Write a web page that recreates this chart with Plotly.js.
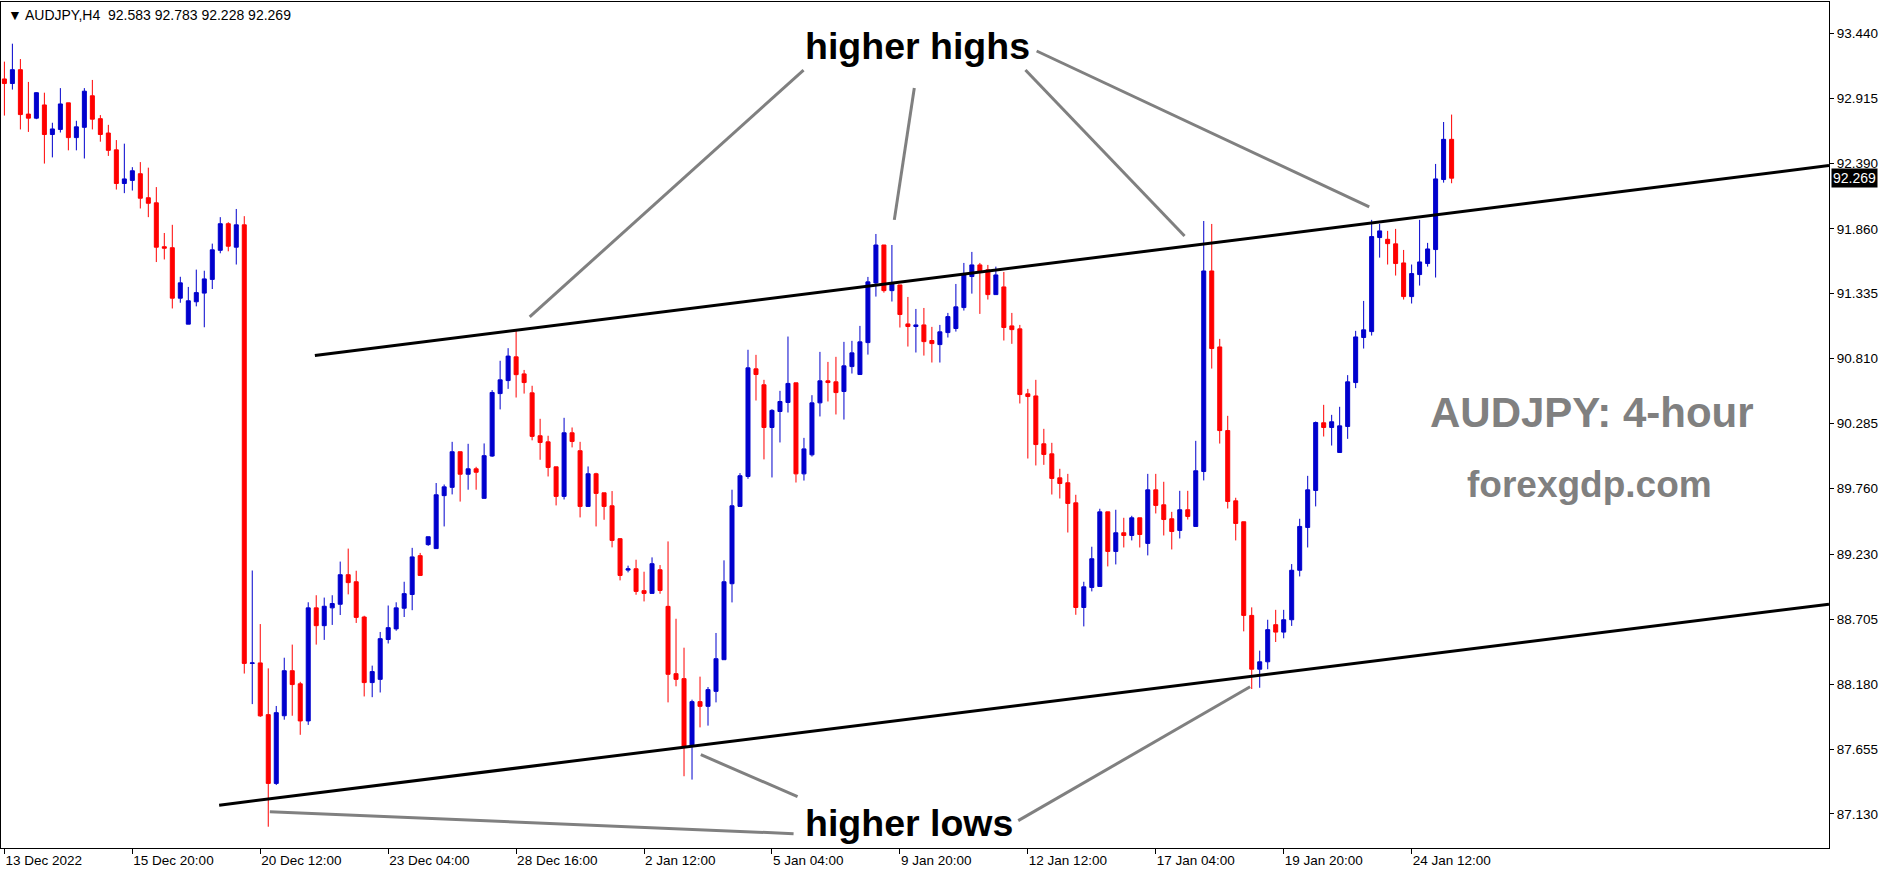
<!DOCTYPE html>
<html>
<head>
<meta charset="utf-8">
<script src="https://cdn.plot.ly/plotly-3.0.1.min.js"></script>
<style>html,body{margin:0;padding:0;background:#fff;}#chart{width:1893px;height:875px;}</style>
</head>
<body>
<div id="chart"></div>
<script>
// AUDJPY H4 candles (bar order, oldest first)
const openP = [93.071,93.034,93.146,92.787,92.754,92.861,92.622,92.663,92.878,92.597,
92.680,92.935,92.750,92.634,92.498,92.226,92.251,92.305,92.111,92.070,
91.715,91.707,91.299,91.089,91.270,91.340,91.451,91.686,91.901,91.711,
91.892,88.347,88.351,87.933,87.377,87.924,88.288,88.182,87.882,88.796,
88.652,88.796,88.825,89.064,89.007,88.722,88.192,88.218,88.540,88.626,
88.793,88.904,89.218,89.307,89.275,89.703,89.770,90.058,89.876,89.920,
89.681,90.023,90.528,90.633,90.825,90.687,90.534,90.187,90.138,89.936,
89.697,90.211,90.066,89.616,89.880,89.726,89.621,89.355,89.101,89.112,
88.935,88.913,89.104,88.808,88.264,88.224,87.677,88.038,88.000,88.121,
88.377,88.991,89.616,89.858,90.728,90.599,90.254,90.383,90.456,90.615,
89.879,90.033,90.453,90.631,90.623,90.545,90.746,90.682,90.940,91.422,
91.729,91.360,91.406,91.091,91.070,91.083,90.957,90.924,91.021,91.054,
91.223,91.474,91.568,91.528,91.328,91.390,91.075,91.051,90.526,90.509,
90.122,90.041,89.847,89.807,89.645,88.799,88.961,88.969,89.572,89.252,
89.403,89.381,89.524,89.317,89.750,89.629,89.516,89.422,89.589,89.454,
89.898,91.519,90.905,90.229,89.661,89.492,88.735,88.300,88.360,88.660,
88.600,88.700,89.100,89.446,89.745,90.292,90.254,90.052,90.262,90.617,
90.981,91.029,91.789,91.775,91.738,91.584,91.312,91.490,91.579,91.692,
92.258,92.583];
const highP = [93.211,93.356,93.232,93.047,92.964,92.960,92.717,92.997,92.878,92.733,
92.997,93.063,92.779,92.700,92.577,92.548,92.358,92.399,92.354,92.197,
91.826,91.892,91.472,91.390,91.530,91.521,91.740,91.954,91.913,92.020,
91.962,89.098,88.665,88.307,88.003,88.393,88.499,88.198,88.841,88.898,
88.879,88.898,89.170,89.275,89.096,88.732,88.329,88.601,88.815,88.841,
89.007,89.281,89.240,89.371,89.805,89.793,90.138,90.058,90.122,89.936,
90.125,90.556,90.793,90.895,91.039,90.719,90.591,90.324,90.187,89.936,
90.332,90.254,90.138,89.939,89.888,89.726,89.740,89.360,89.137,89.185,
89.088,89.204,89.142,89.333,88.708,88.474,88.054,88.240,88.156,88.593,
89.180,89.751,89.885,90.882,90.841,90.639,90.402,90.550,90.989,90.615,
90.170,90.515,90.865,90.784,90.825,90.946,90.954,91.075,91.471,91.818,
91.729,91.729,91.406,91.309,91.212,91.220,91.067,91.083,91.180,91.414,
91.584,91.673,91.584,91.568,91.554,91.511,91.180,91.083,90.566,90.639,
90.243,90.130,89.920,89.879,89.710,89.007,89.290,89.597,89.572,89.589,
89.524,89.540,89.524,89.879,89.879,89.815,89.572,89.742,89.742,90.146,
91.923,91.899,90.970,90.348,89.686,89.492,88.800,88.450,88.700,88.780,
88.780,89.150,89.516,89.863,90.302,90.437,90.356,90.421,90.677,91.035,
91.277,91.932,91.899,91.843,91.859,91.689,91.571,91.932,91.746,92.384,
92.723,92.783];
const lowP = [92.775,92.985,92.663,92.643,92.746,92.387,92.437,92.638,92.494,92.494,
92.428,92.663,92.564,92.449,92.177,92.148,92.169,92.024,91.954,91.591,
91.612,91.216,91.262,91.089,91.233,91.064,91.373,91.662,91.678,91.571,
88.265,88.018,87.915,87.027,87.364,87.892,87.924,87.770,87.850,88.499,
88.537,88.658,88.738,88.905,88.674,88.080,88.074,88.112,88.508,88.611,
88.722,88.777,89.058,89.297,89.275,89.454,89.713,89.655,89.751,89.751,
89.681,90.016,90.400,90.566,90.496,90.528,90.150,89.993,89.858,89.624,
89.672,90.093,89.527,89.616,89.454,89.508,89.285,89.018,89.083,88.902,
88.848,88.913,88.910,88.032,88.162,87.435,87.408,87.830,87.844,88.032,
88.377,88.840,89.616,89.839,90.472,89.996,89.850,90.133,90.375,89.809,
89.825,90.019,90.343,90.464,90.359,90.318,90.690,90.682,90.843,91.312,
91.344,91.272,91.062,90.908,90.860,90.835,90.779,90.779,90.981,91.029,
91.199,91.336,91.172,91.288,91.328,90.957,90.930,90.448,90.003,89.947,
89.952,89.712,89.680,89.405,88.740,88.646,88.929,88.969,89.131,89.147,
89.284,89.341,89.284,89.220,89.559,89.381,89.268,89.357,89.510,89.454,
89.826,90.730,90.124,89.599,89.341,88.606,88.140,88.150,88.300,88.520,
88.550,88.650,89.050,89.284,89.616,90.181,90.108,90.052,90.162,90.572,
90.892,90.997,91.627,91.571,91.482,91.288,91.256,91.401,91.554,91.466,
92.233,92.228];
const closeP = [93.034,93.146,92.783,92.754,92.960,92.622,92.667,92.869,92.597,92.684,
92.972,92.746,92.622,92.494,92.226,92.263,92.329,92.107,92.066,91.711,
91.703,91.299,91.423,91.278,91.344,91.455,91.690,91.901,91.719,91.892,
88.347,88.351,87.923,87.377,87.949,88.288,88.176,87.882,88.796,88.652,
88.809,88.831,89.064,89.000,88.719,88.192,88.281,88.547,88.636,88.796,
88.911,89.208,89.058,89.371,89.710,89.774,90.058,89.876,89.920,89.892,
90.026,90.537,90.639,90.831,90.681,90.617,90.182,90.133,89.931,89.697,
90.211,90.141,89.616,89.880,89.721,89.616,89.341,89.058,89.112,88.929,
88.913,89.153,88.937,88.259,88.218,87.677,88.038,88.000,88.135,88.385,
89.007,89.621,89.864,90.736,90.682,90.254,90.392,90.464,90.610,89.879,
90.081,90.453,90.631,90.617,90.536,90.752,90.857,90.946,91.431,91.729,
91.360,91.417,91.167,91.070,91.083,90.948,90.932,91.027,91.150,91.229,
91.492,91.568,91.519,91.328,91.487,91.062,91.045,90.520,90.504,90.116,
90.036,89.842,89.801,89.640,88.799,88.966,89.193,89.572,89.252,89.403,
89.381,89.524,89.389,89.750,89.624,89.510,89.413,89.589,89.535,89.904,
91.519,90.892,90.229,89.656,89.478,88.735,88.300,88.360,88.620,88.600,
88.700,89.100,89.454,89.750,90.294,90.254,90.300,90.267,90.623,90.986,
91.043,91.797,91.843,91.740,91.579,91.312,91.498,91.592,91.697,92.263,
92.583,92.269];

// time-axis labels (every 16 bars)
const xTickBars = [0,16,32,48,64,80,96,112,128,144,160,176];
const xTickLabels = ["13 Dec 2022","15 Dec 20:00","20 Dec 12:00","23 Dec 04:00","28 Dec 16:00","2 Jan 12:00","5 Jan 04:00","9 Jan 20:00","12 Jan 12:00","17 Jan 04:00","19 Jan 20:00","24 Jan 12:00"];
const yTickVals = [93.440,92.915,92.390,91.860,91.335,90.810,90.285,89.760,89.230,88.705,88.180,87.655,87.130];

// header
const symbolHeader = "\u25BC AUDJPY,H4\u00a0\u00a092.583 92.783 92.228 92.269";
const lastPrice = 92.269;

// channel trendlines [barStart, priceStart, barEnd, priceEnd]
const channelLines = [
  [38.83, 90.836, 228.2, 92.371],
  [26.86, 87.201, 228.2, 88.826]
];
// grey pointer lines [barStart, priceStart, barEnd, priceEnd]
const pointerLines = [
  [99.95, 93.143, 65.7, 91.148],
  [113.8, 92.998, 111.3, 91.932],
  [127.7, 93.143, 147.6, 91.802],
  [129.1, 93.297, 170.7, 92.037],
  [99.2, 87.270, 87.1, 87.609],
  [126.8, 87.076, 155.8, 88.158],
  [98.7, 86.971, 33.2, 87.148]
];
// text labels [bar, price, text]
const labelHH = [114.2, 93.337, "higher highs"];
const labelHL = [113.1, 87.060, "higher lows"];
const labelTitle = [198.6, 90.372, "AUDJPY: 4-hour"];
const labelSite = [198.2, 89.790, "forexgdp.com"];

const xIdx = openP.map((_, i) => i);

const trace = {
  type: 'candlestick',
  x: xIdx, open: openP, high: highP, low: lowP, close: closeP,
  increasing: {line: {color: '#0000CD', width: 1}, fillcolor: '#0000CD'},
  decreasing: {line: {color: '#FF0000', width: 1}, fillcolor: '#FF0000'},
  whiskerwidth: 0,
  hoverinfo: 'skip',
  showlegend: false
};

const shapes = [];
channelLines.forEach(l => shapes.push({type:'line', xref:'x', yref:'y', x0:l[0], y0:l[1], x1:l[2], y1:l[3], line:{color:'#000000', width:3}}));
pointerLines.forEach(l => shapes.push({type:'line', xref:'x', yref:'y', x0:l[0], y0:l[1], x1:l[2], y1:l[3], line:{color:'#808080', width:3}}));

const bigFont = {family: 'Liberation Sans, Arial, sans-serif', size: 37.5, color: '#000000'};
const greyFont = {family: 'Liberation Sans, Arial, sans-serif', size: 42, color: '#808080'};

const annotations = [
  {xref:'x', yref:'y', x:labelHH[0], y:labelHH[1], text:'<b>'+labelHH[2]+'</b>', showarrow:false, font:bigFont, xanchor:'center', yanchor:'middle'},
  {xref:'x', yref:'y', x:labelHL[0], y:labelHL[1], text:'<b>'+labelHL[2]+'</b>', showarrow:false, font:bigFont, xanchor:'center', yanchor:'middle'},
  {xref:'x', yref:'y', x:labelTitle[0], y:labelTitle[1], text:'<b>'+labelTitle[2]+'</b>', showarrow:false, font:greyFont, xanchor:'center', yanchor:'middle'},
  {xref:'x', yref:'y', x:labelSite[0], y:labelSite[1], text:'<b>'+labelSite[2]+'</b>', showarrow:false, font:{family:'Liberation Sans, Arial, sans-serif', size:37, color:'#808080'}, xanchor:'center', yanchor:'middle'},
  {xref:'paper', yref:'paper', x:0, y:1, xanchor:'left', yanchor:'top', xshift:5, yshift:-3, text:symbolHeader, showarrow:false, font:{family:'Liberation Sans, Arial, sans-serif', size:14, color:'#000000'}},
  {xref:'paper', yref:'y', x:1, y:lastPrice, xanchor:'left', yanchor:'middle', xshift:2, text:lastPrice.toFixed(3), showarrow:false, bgcolor:'#000000', borderpad:1, font:{family:'Liberation Sans, Arial, sans-serif', size:14, color:'#ffffff'}}
];

const layout = {
  width: 1893, height: 875,
  margin: {l:1, r:64, t:2, b:27, pad:0},
  paper_bgcolor: '#ffffff', plot_bgcolor: '#ffffff',
  boxgap: 0.5, boxgroupgap: 0,
  showlegend: false,
  hovermode: false,
  xaxis: {
    range: [-0.425, 228.2], rangeslider: {visible: false},
    showgrid: false, zeroline: false, showline: true, mirror: true, linecolor: '#000000', linewidth: 1,
    ticks: 'outside', ticklen: 5, tickcolor: '#000000', tickwidth: 1,
    tickmode: 'array', tickvals: xTickBars, ticktext: xTickLabels,
    ticklabelposition: 'outside right',
    tickfont: {family: 'Liberation Sans, Arial, sans-serif', size: 13.5, color: '#000000'},
    fixedrange: true
  },
  yaxis: {
    side: 'right', range: [86.855, 93.693],
    showgrid: false, zeroline: false, showline: true, mirror: true, linecolor: '#000000', linewidth: 1,
    ticks: 'outside', ticklen: 4, tickcolor: '#000000', tickwidth: 1,
    tickmode: 'array', tickvals: yTickVals, ticktext: yTickVals.map(v => v.toFixed(3)),
    tickfont: {family: 'Liberation Sans, Arial, sans-serif', size: 13.5, color: '#000000'},
    fixedrange: true
  },
  shapes: shapes,
  annotations: annotations
};

Plotly.newPlot('chart', [trace], layout, {displayModeBar: false, staticPlot: true});
</script>
</body>
</html>
